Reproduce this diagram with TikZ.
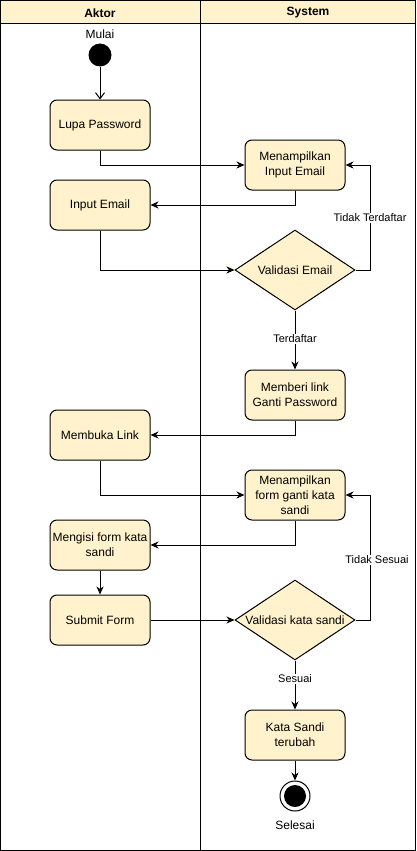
\documentclass[tikz,border=0pt]{standalone}
\usepackage{fontspec}
\setmainfont{Liberation Sans}
\usetikzlibrary{shapes.geometric,arrows.meta}
\definecolor{nodefill}{HTML}{FFF2CC}
\begin{document}
\begin{tikzpicture}[x=1pt,y=-1pt,line width=1pt,
  act/.style={draw,fill=nodefill,rounded corners=7pt,minimum width=100pt,minimum height=50pt,align=center,font=\fontsize{12}{15}\selectfont,inner sep=0pt},
  dec/.style={draw,fill=nodefill,diamond,minimum width=120pt,minimum height=80pt,aspect=1.5,inner sep=0pt,font=\fontsize{12}{15}\selectfont},
  flow/.style={draw,-{Stealth[length=8pt,width=7pt,inset=2.5pt]}},
  lbl/.style={fill=white,font=\fontsize{11}{13}\selectfont,inner sep=1pt},
  hdr/.style={font=\bfseries\fontsize{12}{15}\selectfont}]
\useasboundingbox (0,0) rectangle (416,851);
% swimlanes
\fill[nodefill] (0.5,0.5) rectangle (415.5,23.5);
\draw (0.5,0.5) rectangle (415.5,850.5);
\draw (0.5,23.5) -- (415.5,23.5);
\draw (200.5,0.5) -- (200.5,850.5);
\node[hdr] (hA) at (100,13) {Aktor};
\node[hdr] (hS) at (308,13) {System};
% start
\node[circle,fill=black,minimum size=23pt,inner sep=0pt] (start) at (100,55) {};
\node[font=\fontsize{12}{15}\selectfont] (mulai) at (100,34) {Mulai};
% actions
\node[act] (lupa) at (100,125) {Lupa Password};
\node[act] (tampil1) at (295,165) {Menampilkan\\Input Email};
\node[act] (input) at (100,205) {Input Email};
\node[dec] (val1) at (295,270) {Validasi Email};
\node[act] (link) at (295,395) {Memberi link\\Ganti Password};
\node[act] (buka) at (100,435) {Membuka Link};
\node[act] (tampil2) at (295,495) {Menampilkan\\form ganti kata\\sandi};
\node[act] (isi) at (100,545) {Mengisi form kata\\sandi};
\node[act] (submit) at (100,620) {Submit Form};
\node[dec] (val2) at (295,620) {Validasi kata sandi};
\node[act] (ubah) at (295,735) {Kata Sandi\\terubah};
% end
\node[circle,draw,fill=white,line width=1pt,minimum size=30pt,inner sep=0pt] (end) at (295,796) {};
\node[circle,fill=black,minimum size=22pt,inner sep=0pt] (endin) at (end) {};
\node[font=\fontsize{12}{15}\selectfont] (selesai) at (295,825) {Selesai};
% connectors
\draw[-{Straight Barb[length=6pt,width=9pt]}] (start) -- (lupa);
\draw[flow] (lupa.south) |- (tampil1.west);
\draw[flow] (tampil1.south) |- (input.east);
\draw[flow] (input.south) |- (val1.west);
\coordinate (c1) at (370,270);
\coordinate (c1b) at (370,165);
\draw[flow] (val1.east) -- (c1) -- (c1b) -- (tampil1.east);
\node[lbl] (lt) at (370,218) {Tidak Terdaftar};
\draw[flow] (val1.south) -- (link.north);
\node[lbl] (lt2) at (295,339) {Terdaftar};
\draw[flow] (link.south) |- (buka.east);
\draw[flow] (buka.south) |- (tampil2.west);
\draw[flow] (tampil2.south) |- (isi.east);
\draw[flow] (isi) -- (submit);
\draw[flow] (submit) -- (val2.west);
\coordinate (c2) at (370,620);
\coordinate (c2b) at (370,495);
\draw[flow] (val2.east) -- (c2) -- (c2b) -- (tampil2.east);
\node[lbl] (ls) at (377,560) {Tidak Sesuai};
\draw[flow] (val2.south) -- (ubah.north);
\node[lbl] (ls2) at (295,679) {Sesuai};
\draw[flow] (ubah.south) -- (end.north);
\end{tikzpicture}
\end{document}
